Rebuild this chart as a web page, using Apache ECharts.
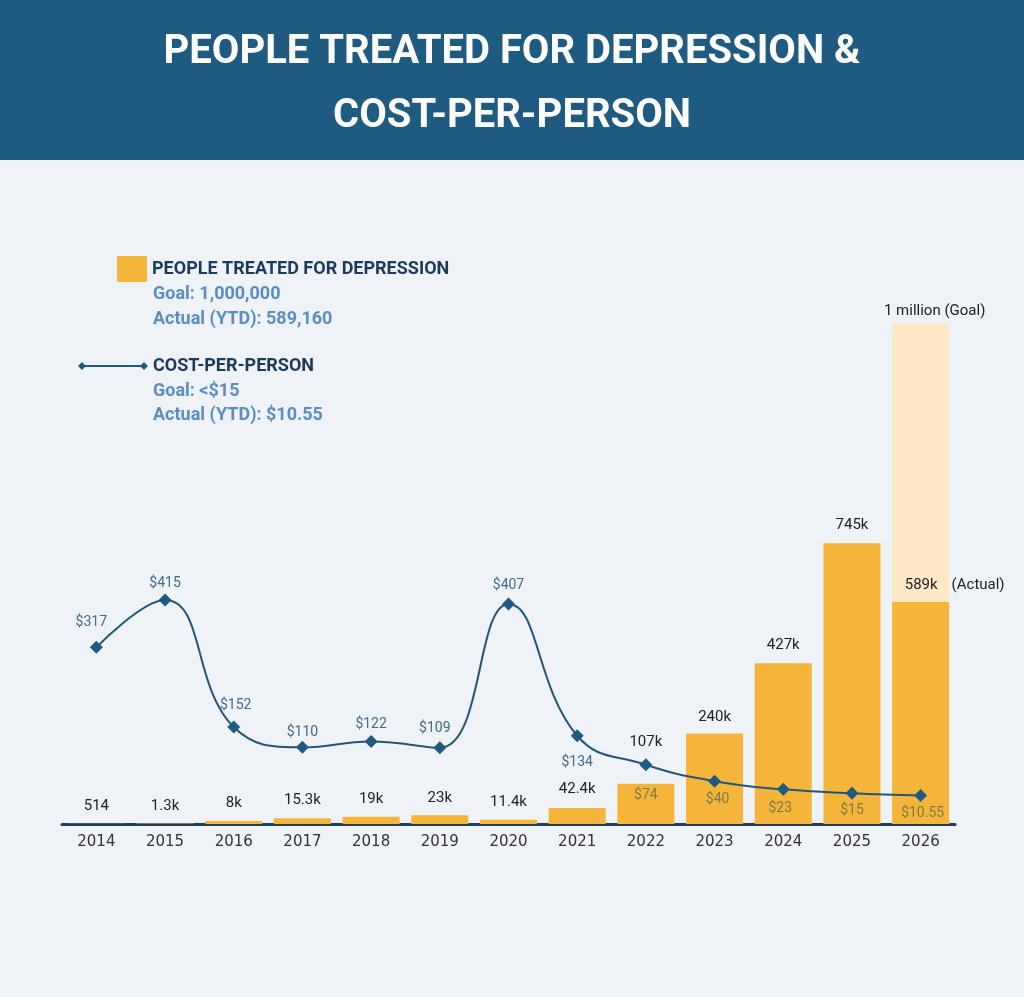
<!DOCTYPE html>
<html>
<head>
<meta charset="utf-8">
<script src="https://cdn.jsdelivr.net/npm/echarts@6/dist/echarts.min.js"></script>
<style>
html,body{margin:0;padding:0;background:#eff3f7;}
#chart{width:1024px;height:997px;}
</style>
</head>
<body>
<div id="chart"></div>
<script>
// ---- data ----
var years = ['2014','2015','2016','2017','2018','2019','2020','2021','2022','2023','2024','2025','2026'];
var peopleTreated = [514, 1300, 8000, 15300, 19000, 23000, 11400, 42400, 107000, 240000, 427000, 745000, 589160];
var goalPeople = [null, null, null, null, null, null, null, null, null, null, null, null, 1000000];
var costPerPerson = [317, 415, 152, 110, 122, 109, 407, 134, 74, 40, 23, 15, 10.55];
var costLabels = ['$317','$415','$152','$110','$122','$109','$407','$134','$74','$40','$23','$15','$10.55'];
var legendLines = {
  people: ['Goal: 1,000,000', 'Actual (YTD): 589,160'],
  cost: ['Goal: <$15', 'Actual (YTD): $10.55']
};

// ---- label placement (style only) ----
var costLabelPos = ['top','top','top','top','top','top','top','bottom','bottom','bottom','bottom','bottom','bottom'];
var costLabelDist = [11, 3, 8, 1, 4, 6, 5, 13, 17, 5, 6, 4, 5];
var costLabelDx = [-5, 0, 2, 0, 0, -5, 0, 0, 0, 3, -3, 0, 2];
var costLabelInBar = [false,false,false,false,false,false,false,false,true,true,true,true,true];
var barLabelDist = [10, 10, 10, 10, 10, 10, 10, 11, 34, 9, 10, 11, 9];

function kFmt(v){
  if (v < 1000) return String(v);
  var k = v / 1000;
  if (k >= 100) return Math.round(k) + 'k';
  var s = (Math.round(k * 10) / 10).toFixed(1);
  if (s.slice(-2) === '.0') s = s.slice(0, -2);
  return s + 'k';
}

var FONT = "Roboto, 'Noto Sans', sans-serif";

var barData = peopleTreated.map(function(v, i){
  var item = {value: v, label: {distance: barLabelDist[i]}};
  if (i === peopleTreated.length - 1) {
    item.label = {
      distance: barLabelDist[i],
      formatter: '{v|' + kFmt(v) + '}{s|(Actual)}',
      offset: [34, 0],
      rich: {
        v: {fontFamily: FONT, fontSize: 15, color: '#222'},
        s: {fontFamily: FONT, fontSize: 15, color: '#222', padding: [0, 0, 0, 14]}
      }
    };
  }
  return item;
});

var lineData = costPerPerson.map(function(v, i){
  return {
    value: v,
    label: {
      position: costLabelPos[i],
      distance: costLabelDist[i],
      offset: [costLabelDx[i], 0],
      formatter: costLabels[i],
      color: costLabelInBar[i] ? '#7f7a48' : '#3e6c8c'
    }
  };
});

var subFont = "bold 18px Roboto, 'Noto Sans', sans-serif";

var chart = echarts.init(document.getElementById('chart'));
chart.setOption({
  backgroundColor: '#eff3f7',
  animation: false,
  title: {
    text: 'PEOPLE TREATED FOR DEPRESSION &\nCOST-PER-PERSON',
    left: 'center',
    top: 16,
    textStyle: {
      color: '#ffffff',
      fontFamily: FONT,
      fontWeight: 'bold',
      fontSize: 40,
      lineHeight: 64,
      align: 'center'
    }
  },
  graphic: [
    {type: 'rect', left: 0, top: 0, z: -1, shape: {width: 1024, height: 160}, style: {fill: '#1f5b81'}},
    {type: 'text', left: 153, top: 285, style: {text: legendLines.people[0], fill: '#5b8dc5', font: subFont}},
    {type: 'text', left: 153, top: 310, style: {text: legendLines.people[1], fill: '#5b8dc5', font: subFont}},
    {type: 'text', left: 153, top: 382, style: {text: legendLines.cost[0], fill: '#5b8dc5', font: subFont}},
    {type: 'text', left: 153, top: 406, style: {text: legendLines.cost[1], fill: '#5b8dc5', font: subFont}}
  ],
  legend: [
    {
      data: [{name: 'PEOPLE TREATED FOR DEPRESSION', icon: 'rect'}],
      left: 117, top: 256, padding: 0,
      itemWidth: 30, itemHeight: 26,
      selectedMode: false,
      textStyle: {fontFamily: FONT, fontWeight: 'bold', fontSize: 18, color: '#1b3a5c'}
    },
    {
      data: [{name: 'COST-PER-PERSON',
              icon: 'path://M0,4 L4,0 L8,4 L4,8 Z M4,3.1 L66,3.1 L66,4.9 L4,4.9 Z M62,4 L66,0 L70,4 L66,8 Z',
              itemStyle: {color: '#1f5a80'}}],
      left: 78, top: 357, padding: 0,
      itemWidth: 70, itemHeight: 8,
      selectedMode: false,
      textStyle: {fontFamily: FONT, fontWeight: 'bold', fontSize: 18, color: '#1b3a5c'}
    }
  ],
  grid: {left: 62, right: 69, top: 323, bottom: 173, containLabel: false},
  xAxis: {
    type: 'category',
    data: years,
    axisLine: {lineStyle: {color: '#1d3d63', width: 3}},
    axisTick: {show: false},
    axisLabel: {fontFamily: 'DejaVu Sans', fontSize: 15, color: '#333', margin: 11}
  },
  yAxis: [
    {type: 'value', min: 0, max: 1330000, show: false},
    {type: 'value', min: 0, max: 1000000, show: false},
    {type: 'value', min: -48.7, max: 988.6, show: false}
  ],
  series: [
    {
      name: 'Goal',
      type: 'bar',
      yAxisIndex: 1,
      data: goalPeople,
      barWidth: '83%',
      barGap: '-100%',
      itemStyle: {color: '#fde9c6'},
      label: {
        show: true, position: 'top', distance: 4, offset: [14, 0],
        formatter: '1 million (Goal)',
        fontFamily: FONT, fontSize: 15, color: '#222'
      },
      z: 1
    },
    {
      name: 'PEOPLE TREATED FOR DEPRESSION',
      type: 'bar',
      yAxisIndex: 0,
      data: barData,
      barWidth: '83%',
      barGap: '-100%',
      itemStyle: {color: '#f4b53a'},
      label: {
        show: true, position: 'top',
        formatter: function(p){ return kFmt(p.value); },
        fontFamily: FONT, fontSize: 15, color: '#222'
      },
      z: 2
    },
    {
      name: 'COST-PER-PERSON',
      type: 'line',
      yAxisIndex: 2,
      data: lineData,
      smooth: 0.45,
      symbol: 'diamond',
      symbolSize: 13,
      itemStyle: {color: '#1f5a80'},
      lineStyle: {color: '#24567c', width: 2},
      label: {show: true, fontFamily: FONT, fontSize: 14},
      z: 5
    }
  ]
});
</script>
</body>
</html>
